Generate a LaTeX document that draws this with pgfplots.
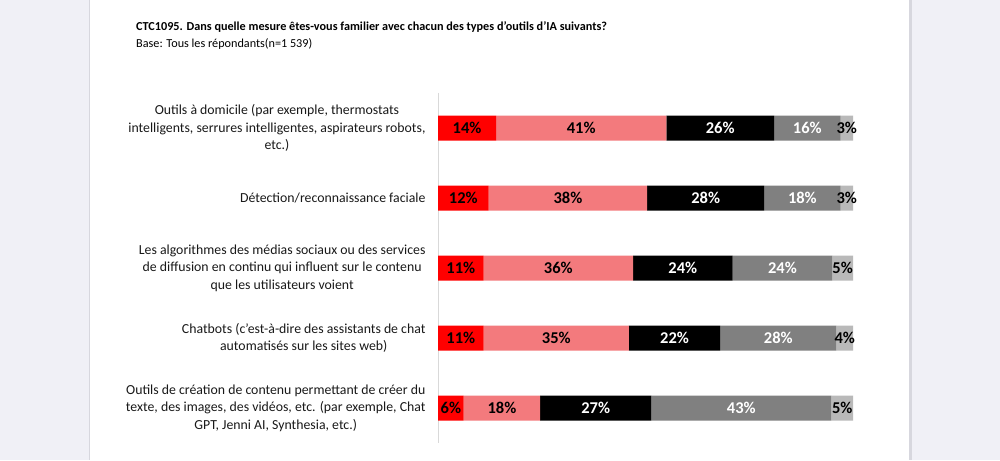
\documentclass[border=0pt]{standalone}
\usepackage{fontspec}
\setmainfont{Carlito}
\usepackage{pgfplots}
\usepackage{pgfplotstable}
\pgfplotsset{compat=1.18}
\definecolor{bgc}{RGB}{240,240,246}
\definecolor{edgec}{RGB}{215,215,222}
\definecolor{cred}{RGB}{255,0,0}
\definecolor{cpink}{RGB}{243,122,125}
\definecolor{cgrey}{RGB}{128,128,128}
\definecolor{clgrey}{RGB}{185,185,185}
\definecolor{axc}{RGB}{217,217,217}
\pgfplotstableread{
cat red pink black grey lgrey
0 14 41 26 16 3
1 12.2 38.2 28.2 18.4 3
2 11 36 24 24 5
3 11 35 22 28 4
4 6.2 18.4 26.8 43.4 5.2
}\datatable
\newcommand{\barfont}{\bfseries\fontsize{16.5}{17}\selectfont}
\pgfplotsset{seglabel/.style={
  visualization depends on={rawx \as \segval},
  nodes near coords={\pgfmathprintnumber[assume math mode=true, fixed, precision=0]{\segval}\%},
  every node near coord/.style={anchor=center, inner sep=0pt, font=\barfont, text=#1}}}
\begin{document}
\begin{tikzpicture}[x=1pt,y=1pt]
\fill[bgc] (0,0) rectangle (1000,460);
\fill[white] (90,0) rectangle (910,460);
\fill[edgec] (909,0) rectangle (911.5,460);
\fill[edgec] (88.5,0) rectangle (90,460);
\node[anchor=base west, inner sep=0pt, font=\bfseries\fontsize{12.2}{14}\selectfont] at (136,429) {CTC1095. Dans quelle mesure êtes-vous familier avec chacun des types d'outils d'IA suivants?};
\node[anchor=base west, inner sep=0pt, font=\fontsize{12.2}{14}\selectfont] at (136,412) {Base: Tous les répondants(n=1 539)};
\begin{axis}[
  at={(438pt,17pt)}, anchor=south west,
  scale only axis, width=415pt, height=350pt,
  xmin=0, xmax=100, ymin=-0.5, ymax=4.5, y dir=reverse,
  xbar stacked, bar width=25pt,
  axis x line=none, axis y line*=left,
  y axis line style={draw=axc, line width=1pt, -},
  ytick={0,1,2,3,4},
  ytick style={draw=none},
  major tick length=0pt,
  yticklabels={{Outils à domicile (par exemple, thermostats\\intelligents, serrures intelligentes, aspirateurs robots,\\etc.)},
    {Détection/reconnaissance faciale},
    {Les algorithmes des médias sociaux ou des services\\de diffusion en continu qui influent sur le contenu\\que les utilisateurs voient},
    {Chatbots (c'est-à-dire des assistants de chat\\automatisés sur les sites web)},
    {Outils de création de contenu permettant de créer du\\texte, des images, des vidéos, etc. (par exemple, Chat\\GPT, Jenni AI, Synthesia, etc.)}},
  yticklabel style={align=center, font=\fontsize{13.8}{17.5}\selectfont, xshift=-9pt, text=black!90},
]
\addplot[fill=cred, draw=none, seglabel=black] table[x=red, y=cat] {\datatable};
\addplot[fill=cpink, draw=none, seglabel=black] table[x=pink, y=cat] {\datatable};
\addplot[fill=black, draw=none, seglabel=white] table[x=black, y=cat] {\datatable};
\addplot[fill=cgrey, draw=none, seglabel=white] table[x=grey, y=cat] {\datatable};
\addplot[fill=clgrey, draw=none, seglabel=black] table[x=lgrey, y=cat] {\datatable};
\end{axis}
\end{tikzpicture}
\end{document}
